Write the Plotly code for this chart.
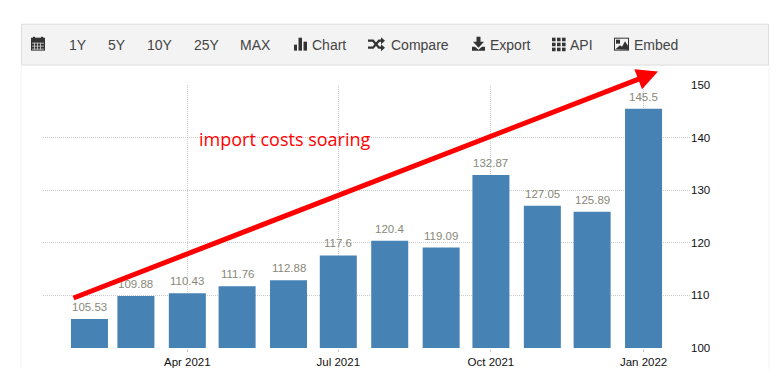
import plotly.graph_objects as go

dates = ["2021-02-01","2021-03-01","2021-04-01","2021-05-01","2021-06-01","2021-07-01",
         "2021-08-01","2021-09-01","2021-10-01","2021-11-01","2021-12-01","2022-01-01"]
values = [105.53,109.88,110.43,111.76,112.88,117.6,120.4,119.09,132.87,127.05,125.89,145.5]
labels = ["105.53","109.88","110.43","111.76","112.88","117.6","120.4","119.09","132.87","127.05","125.89","145.5"]
tick_dates = ["2021-04-01","2021-07-01","2021-10-01","2022-01-01"]
tick_labels = ["Apr 2021","Jul 2021","Oct 2021","Jan 2022"]
y_ticks = [100,110,120,130,140,150]
toolbar = [("1Y",68),("5Y",107),("10Y",146),("25Y",193),("MAX",239),("Chart",311),
           ("Compare",390),("Export",489),("API",569),("Embed",633)]

W, H = 779, 370
L, R, T, B = 43, 690, 84.5, 348.5
ICON = "#333333"
PANEL = "#f3f3f3"
def px(x): return (x-L)/(R-L)
def py(y): return (B-y)/(B-T)

fig = go.Figure(go.Bar(
    x=dates, y=values, width=22.3*86400000, marker=dict(color="#4682B4", line_width=0), hoverinfo="skip",
))

shapes = []
def rect(x0,y0,x1,y1,fill,line=None,w=0,layer="below"):
    shapes.append(dict(type="rect",xref="paper",yref="paper",x0=px(x0),x1=px(x1),y0=py(y0),y1=py(y1),
                       fillcolor=fill,line=dict(color=line or fill,width=w),layer=layer))
def vline(x,y0,y1,col):
    shapes.append(dict(type="line",xref="paper",yref="paper",x0=px(x),x1=px(x),y0=py(y0),y1=py(y1),
                       line=dict(color=col,width=1),layer="below"))
def poly(pts,fill=ICON,closed=True,w=0,layer="below"):
    d = "M"+" L".join(f"{px(a):.5f},{py(b):.5f}" for a,b in pts)+(" Z" if closed else "")
    shapes.append(dict(type="path",xref="paper",yref="paper",path=d,
                       fillcolor=fill if closed else "rgba(0,0,0,0)",
                       line=dict(color=ICON if w else "rgba(0,0,0,0)",width=w),layer=layer))

vline(21,65,370,"#f2f2f2"); vline(769,65,370,"#f2f2f2")
rect(21.5,23.5,768.5,64.5,PANEL,"#dddddd",1)

# calendar icon
rect(31,37,45,50,ICON)
rect(33,36,35,38,ICON); rect(41,36,43,38,ICON)
for yy in (42,45,48): rect(32,yy,44,yy+1,"#bbbbbb")
for xx in (34,37,40): rect(xx,42,xx+1,49,"#bbbbbb")
# bar chart icon
rect(294,44,297,50,ICON); rect(298.5,37,302,50,ICON); rect(303.5,41,307,50,ICON)
# shuffle icon
poly([(368,40),(373,40),(379,47),(382,47)],closed=False,w=2.2)
poly([(368,47),(373,47),(379,40),(382,40)],closed=False,w=2.2)
poly([(381,36.5),(385,40),(381,43.5)]); poly([(381,43.5),(385,47),(381,50.5)])
# export icon
poly([(476.5,36),(480.5,36),(480.5,41),(484,41),(478.5,47),(473,41),(476.5,41)])
poly([(472,46),(475,46),(478.5,49),(482,46),(485,46),(485,50),(472,50)])
# grid icon
for xx in (552,557,562):
    for yy in (37,42,47): rect(xx,yy,xx+3.6,yy+3.6,ICON)
# image icon
rect(614,37,629,50,ICON)
rect(615,38,628,49,PANEL)
rect(616,39,620,43,ICON)
poly([(615.5,48.5),(620,44.5),(622,46),(625,40.5),(628,45),(628,49)])

ann = [dict(text=t,x=px(x),y=py(44),xref="paper",yref="paper",xanchor="left",yanchor="middle",showarrow=False,
            borderpad=0,font=dict(family="Liberation Sans, Arial",size=14,color="#444444")) for t,x in toolbar]
ann += [dict(text=t,x=d,y=v,xref="x",yref="y",xanchor="center",yanchor="bottom",yshift=5,showarrow=False,borderpad=0,
             font=dict(family="Liberation Sans, Arial",size=11.5,color="#888877")) for d,v,t in zip(dates,values,labels)]
ann.append(dict(text="import costs soaring",x=px(198),y=py(139),xref="paper",yref="paper",xanchor="left",yanchor="middle",
                showarrow=False,borderpad=0,font=dict(family="Open Sans, DejaVu Sans",size=18,color="#ff0000")))
ann.append(dict(x=px(658),y=py(71),xref="paper",yref="paper",ax=72-658,ay=298-71,axref="pixel",ayref="pixel",
                showarrow=True,arrowcolor="#ff0000",arrowwidth=5,arrowhead=2,arrowsize=0.85,text="",standoff=0))
tickfont = dict(family="Liberation Sans, Arial",size=11.5,color="#111111")
fig.update_layout(
    width=W,height=H,margin=dict(l=L,r=W-R,t=T,b=H-B,pad=0),paper_bgcolor="white",plot_bgcolor="white",
    showlegend=False,shapes=shapes,annotations=ann,
    xaxis=dict(type="date",range=["2021-01-04","2022-01-29"],tickmode="array",tickvals=tick_dates,ticktext=tick_labels,
               automargin=False,showgrid=True,gridcolor="#cccccc",griddash="1px,1px",gridwidth=1,zeroline=False,showline=False,
               ticks="outside",ticklen=3,tickcolor="#cccccc",tickangle=0,tickfont=tickfont),
    yaxis=dict(side="right",range=[100,150],tickmode="array",tickvals=y_ticks,automargin=False,showgrid=True,gridcolor="#cccccc",
               griddash="1px,1px",gridwidth=1,zeroline=False,showline=False,ticks="",tickfont=tickfont),
)
fig.write_html("out.html",config=dict(displayModeBar=False),
               post_script="document.body.style.margin='0';document.body.style.overflow='hidden';")
